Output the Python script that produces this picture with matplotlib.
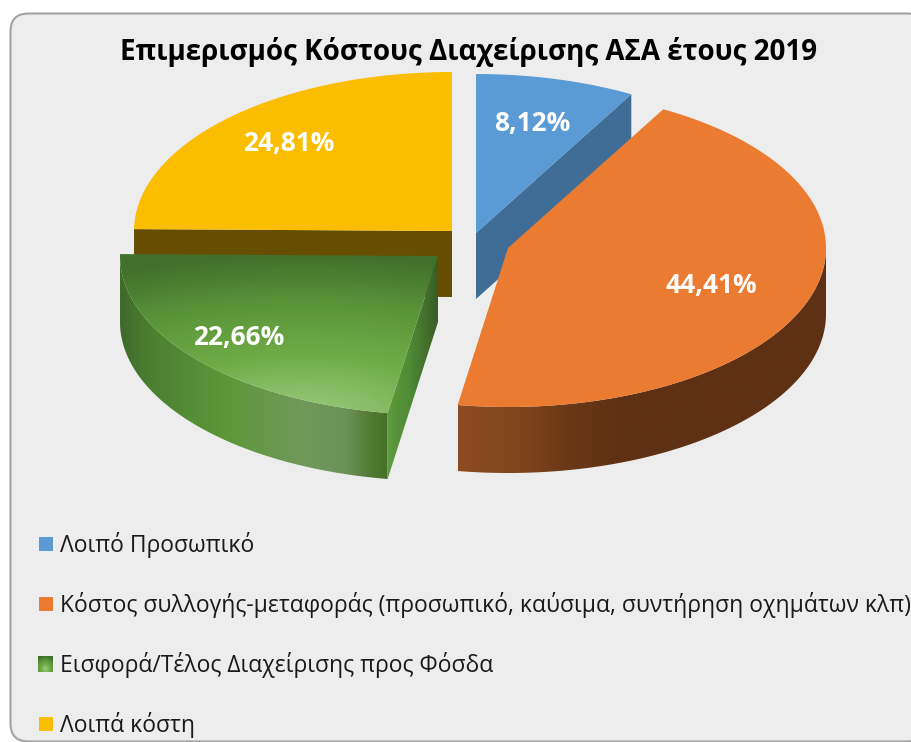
import numpy as np
import matplotlib
matplotlib.use("Agg")
import matplotlib.pyplot as plt
from matplotlib.patches import Polygon, FancyBboxPatch, Rectangle
from matplotlib.colors import LinearSegmentedColormap

title = "Επιμερισμός Κόστους Διαχείρισης ΑΣΑ έτους 2019"
categories = ["Λοιπό Προσωπικό",
              "Κόστος συλλογής-μεταφοράς (προσωπικό, καύσιμα, συντήρηση οχημάτων κλπ)",
              "Εισφορά/Τέλος Διαχείρισης προς Φόσδα",
              "Λοιπά κόστη"]
values = [8.12, 44.41, 22.66, 24.81]
value_labels = ["8,12%", "44,41%", "22,66%", "24,81%"]

plt.rcParams["font.family"] = ["Open Sans", "DejaVu Sans"]

RX, RY, DEPTH = 318, 159, 66
apex = [(476, 233), (508, 248), (438, 256), (452, 231)]
label_xy = [(532, 124), (711, 286), (239, 338), (289, 143)]
legend_y = [545, 605, 665, 725]
top_colors = ["#5B9BD5", "#EA7B30", "#70AD47", "#FBBD00"]
wall_colors = ["#3F6D96", "#5F3114", "#4F8A35", "#664D00"]

fig = plt.figure(figsize=(9.12, 7.42), dpi=100, facecolor="white")
ax = fig.add_axes([0, 0, 1, 1])
ax.set_xlim(0, 912)
ax.set_ylim(742, 0)
ax.axis("off")

ax.add_patch(FancyBboxPatch((10.5, 13.5), 915, 728, boxstyle="round,pad=0,rounding_size=18",
                            fc="#EDEDED", ec="#A3A3A3", lw=1.5, zorder=0))

edges = np.concatenate([[0], np.cumsum(values)]) / np.sum(values) * 2 * np.pi


def pt(i, th, dz=0):
    cx, cy = apex[i]
    return np.column_stack([cx + RX * np.sin(th), cy - RY * np.cos(th) + dz])


def arc(i, a, b, dz=0):
    return pt(i, np.linspace(a, b, 200), dz)


def top_poly(i):
    return np.vstack([[apex[i]], arc(i, edges[i], edges[i + 1])])


def arc_wall(i, a, b):
    return np.vstack([arc(i, a, b), arc(i, a, b, DEPTH)[::-1]])


def radial_wall(i, th):
    corner = pt(i, np.array([th]))[0]
    c = np.array(apex[i], float)
    return np.array([c, corner, corner + [0, DEPTH], c + [0, DEPTH]])


def clip_to(im, poly):
    clip = Polygon(poly, closed=True, transform=ax.transData, fc="none", ec="none")
    ax.add_patch(clip)
    im.set_clip_path(clip)


def grad_fill(poly, stops, z):
    """Fill a polygon with a left-to-right gradient; stops are (x pixel, colour)."""
    y0, y1 = poly[:, 1].min(), poly[:, 1].max()
    sx = np.array([s[0] for s in stops], float)
    pos = (sx - sx[0]) / (sx[-1] - sx[0])
    cm = LinearSegmentedColormap.from_list("g", list(zip(pos, [s[1] for s in stops])))
    im = ax.imshow(np.linspace(0, 1, 512)[None, :], extent=(sx[0], sx[-1], y1, y0), cmap=cm,
                   vmin=0, vmax=1, aspect="auto", zorder=z, interpolation="bilinear")
    clip_to(im, poly)
    return im


# Blue slice
ax.add_patch(Polygon(radial_wall(0, edges[1]), fc=wall_colors[0], ec="none", zorder=2))
ax.add_patch(Polygon(top_poly(0), fc=top_colors[0], ec="none", zorder=3))

# Yellow slice
ax.add_patch(Polygon(radial_wall(3, edges[3]), fc=wall_colors[3], ec="none", zorder=2))
ax.add_patch(Polygon(top_poly(3), fc=top_colors[3], ec="none", zorder=3))

# Green slice
grad_fill(arc_wall(2, edges[2], edges[3]),
          [(120, "#3E6A2B"), (150, "#4C8031"), (225, "#5C9739"), (300, "#70995A"),
           (345, "#6C9259"), (375, "#50772F"), (389, "#44702A")], 4)
grad_fill(radial_wall(2, edges[2]), [(388, "#5E9A3E"), (410, "#4F8A35"), (438, "#385C26")], 4)
gx0, gx1, gy0, gy1 = 118, 440, 254, 418
xx, yy = np.meshgrid(np.linspace(gx0, gx1, 320), np.linspace(gy0, gy1, 170))
d = np.sqrt(((xx - 305) * 0.38) ** 2 + (yy - 415) ** 2)
green_cm = LinearSegmentedColormap.from_list(
    "gt", [(0, "#97C97A"), (0.18, "#86BD65"), (0.36, "#70AD47"), (0.7, "#5A9439"), (1, "#41702C")])
im = ax.imshow(d / 160, extent=(gx0, gx1, gy1, gy0), cmap=green_cm, vmin=0, vmax=1,
               aspect="auto", zorder=5, interpolation="bilinear")
clip_to(im, top_poly(2))

# Orange slice
grad_fill(arc_wall(1, np.pi / 2, edges[2]),
          [(458, "#8D4C21"), (520, "#7F441D"), (570, "#6A3816"), (620, "#5F3114"), (828, "#5F3114")], 6)
ax.add_patch(Polygon(top_poly(1), fc=top_colors[1], ec="none", zorder=7))

# Data labels
for (x, y), s in zip(label_xy, value_labels):
    ax.text(x, y, s, color="white", fontsize=19, fontweight="bold", ha="center",
            va="center", zorder=10)

# Title
ax.text(469, 52, title, color="black", fontsize=20, fontweight="bold", ha="center",
        va="center", zorder=10)

# Legend
for i, (y, s) in enumerate(zip(legend_y, categories)):
    yc = y - 1
    if i == 2:
        yy2, xx2 = np.mgrid[-1:1:32j, -1:1:32j]
        m = np.sqrt(xx2 ** 2 + (yy2 - 0.6) ** 2)
        ax.imshow(m, extent=(38, 53, yc + 8, yc - 8), cmap=green_cm, vmin=0, vmax=1.6,
                  aspect="auto", zorder=5)
    else:
        ax.add_patch(Rectangle((39, yc - 7), 14, 14, fc=top_colors[i], ec="none", zorder=5))
    ax.text(60, y, s, color="#1a1a1a", fontsize=16.5, ha="left", va="center", zorder=10)

ax.set_xlim(0, 912)
ax.set_ylim(742, 0)
fig.savefig("out.png", dpi=100, facecolor="white")
